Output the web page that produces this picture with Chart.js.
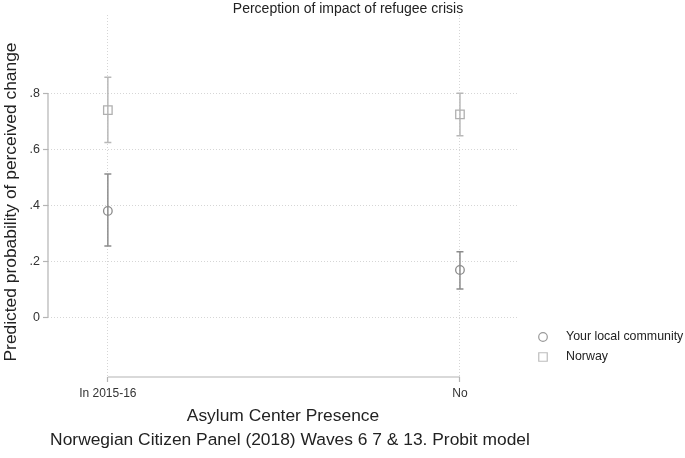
<!DOCTYPE html>
<html>
<head>
<meta charset="utf-8">
<script src="https://cdn.jsdelivr.net/npm/chart.js@4.4.1/dist/chart.umd.min.js"></script>
<style>
  html, body { margin: 0; padding: 0; background: #fff; }
  #wrap { width: 685px; height: 458px; }
</style>
</head>
<body>
<div id="wrap"><canvas id="perceptionChart" width="685" height="458"></canvas></div>
<script>
// categories on the x axis (placed at 0 and 1)
const categories = ['In 2015-16', 'No'];
const yTickValues = [0, 0.2, 0.4, 0.6, 0.8];
const yTickLabels = ['0', '.2', '.4', '.6', '.8'];

// predicted probabilities + confidence bounds
const localEstimate = [0.380, 0.169];
const localLower = [0.255, 0.101];
const localUpper = [0.512, 0.234];

const norwayEstimate = [0.740, 0.725];
const norwayLower = [0.624, 0.648];
const norwayUpper = [0.857, 0.800];

const chartTitle = 'Perception of impact of refugee crisis';
const xTitle = 'Asylum Center Presence';
const yTitle = 'Predicted probability of perceived change';
const noteText = 'Norwegian Citizen Panel (2018) Waves 6 7 & 13. Probit model';

Chart.defaults.font.family = "'Liberation Sans', Arial, Helvetica, sans-serif";
Chart.defaults.color = '#333';

const toPoints = arr => arr.map((v, i) => ({ x: i, y: v }));

// whiskers with caps, drawn under the markers
const errorBars = {
    id: 'errorBars',
    beforeDatasetsDraw(chart) {
        const ctx = chart.ctx;
        const xs = chart.scales.x, ys = chart.scales.y;
        chart.data.datasets.forEach(ds => {
            ctx.save();
            ctx.strokeStyle = ds.whiskerColor;
            ctx.lineWidth = 1.5;
            ds.lower.forEach((lo, i) => {
                const px = xs.getPixelForValue(i);
                const pLo = ys.getPixelForValue(lo);
                const pHi = ys.getPixelForValue(ds.upper[i]);
                ctx.beginPath();
                ctx.moveTo(px, pLo); ctx.lineTo(px, pHi);
                ctx.moveTo(px - 3.5, pLo); ctx.lineTo(px + 3.5, pLo);
                ctx.moveTo(px - 3.5, pHi); ctx.lineTo(px + 3.5, pHi);
                ctx.stroke();
            });
            ctx.restore();
        });
    }
};

// axis lines that only span the tick range, plus the text around the plot
const frame = {
    id: 'frame',
    afterDraw(chart) {
        const ctx = chart.ctx;
        const xs = chart.scales.x, ys = chart.scales.y;
        const area = chart.chartArea;
        ctx.save();
        ctx.strokeStyle = '#b4b4b4';
        ctx.lineWidth = 1.2;
        ctx.beginPath();
        ctx.moveTo(area.left, ys.getPixelForValue(yTickValues[0]));
        ctx.lineTo(area.left, ys.getPixelForValue(yTickValues[yTickValues.length - 1]));
        ctx.moveTo(xs.getPixelForValue(0), area.bottom);
        ctx.lineTo(xs.getPixelForValue(categories.length - 1), area.bottom);
        ctx.stroke();

        ctx.fillStyle = '#222';
        ctx.textAlign = 'center';
        ctx.textBaseline = 'middle';
        ctx.font = "14px 'Liberation Sans', Arial, sans-serif";
        ctx.fillText(chartTitle, 348, 9);
        ctx.font = "17.4px 'Liberation Sans', Arial, sans-serif";
        ctx.fillText(xTitle, 283, 416);
        ctx.fillText(noteText, 290, 440);

        ctx.save();
        ctx.translate(11, 202);
        ctx.rotate(-Math.PI / 2);
        ctx.fillText(yTitle, 0, 0);
        ctx.restore();

        // legend
        ctx.font = "12.4px 'Liberation Sans', Arial, sans-serif";
        ctx.textAlign = 'left';
        chart.data.datasets.forEach((ds, i) => {
            const ly = 337 + i * 20;
            ctx.strokeStyle = ds.legendColor;
            ctx.fillStyle = 'rgba(0,0,0,0)';
            ctx.lineWidth = 1.2;
            Chart.helpers.drawPoint(ctx, {
                pointStyle: ds.pointStyle, radius: ds.pointRadius, borderWidth: 1.2, rotation: 0
            }, 543, ly);
            ctx.fillStyle = '#222';
            ctx.fillText(ds.label, 566, ly);
        });
        ctx.restore();
    }
};

const data = {
    datasets: [
        {
            label: 'Your local community',
            data: toPoints(localEstimate),
            lower: localLower,
            upper: localUpper,
            whiskerColor: '#8c8c8c',
            legendColor: '#9a9a9a',
            pointStyle: 'circle',
            pointRadius: 4.3,
            borderColor: '#8c8c8c',
            backgroundColor: 'rgba(0,0,0,0)',
            borderWidth: 1.3
        },
        {
            label: 'Norway',
            data: toPoints(norwayEstimate),
            lower: norwayLower,
            upper: norwayUpper,
            whiskerColor: '#b8b8b8',
            legendColor: '#bdbdbd',
            pointStyle: 'rect',
            pointRadius: 6,
            borderColor: '#b0b0b0',
            backgroundColor: 'rgba(0,0,0,0)',
            borderWidth: 1.3
        }
    ]
};

const config = {
    type: 'scatter',
    data: data,
    plugins: [errorBars, frame],
    options: {
        responsive: false,
        animation: false,
        events: [],
        layout: { padding: { left: 0, top: 15, right: 168, bottom: 0 } },
        plugins: {
            legend: { display: false },
            title: { display: false },
            tooltip: { enabled: false }
        },
        scales: {
            x: {
                type: 'linear',
                min: -0.17,
                max: 1.162,
                afterBuildTicks: scale => { scale.ticks = categories.map((c, i) => ({ value: i })); },
                afterFit: scale => { scale.height = 81; },
                ticks: {
                    padding: 4,
                    font: { size: 12 },
                    color: '#333',
                    maxRotation: 0,
                    callback: value => categories[value]
                },
                grid: {
                    color: '#d6d6d6',
                    lineWidth: 1,
                    tickLength: 5,
                    tickColor: '#b4b4b4',
                    tickWidth: 1.2,
                    tickBorderDash: []
                },
                border: { display: false, dash: [1, 2] }
            },
            y: {
                min: -0.2132,
                max: 1.0796,
                afterBuildTicks: scale => { scale.ticks = yTickValues.map(v => ({ value: v })); },
                afterFit: scale => { scale.width = 48; },
                ticks: {
                    padding: 3,
                    font: { size: 12.5 },
                    color: '#333',
                    callback: value => yTickLabels[yTickValues.indexOf(value)]
                },
                grid: {
                    color: '#d6d6d6',
                    lineWidth: 1,
                    tickLength: 5,
                    tickColor: '#b4b4b4',
                    tickWidth: 1.2,
                    tickBorderDash: []
                },
                border: { display: false, dash: [1, 2] }
            }
        }
    }
};

const chart = new Chart(document.getElementById('perceptionChart').getContext('2d'), config);
</script>
</body>
</html>
